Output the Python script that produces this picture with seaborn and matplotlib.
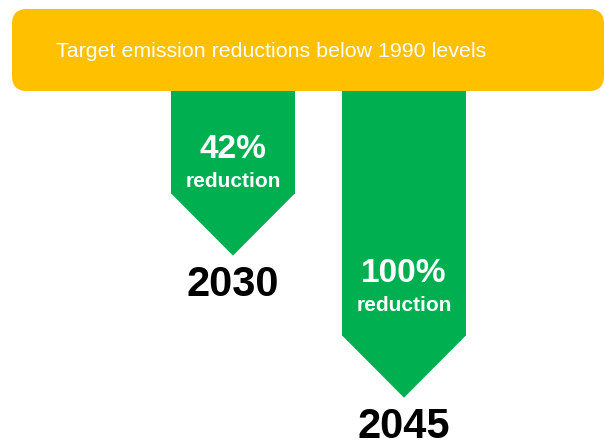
import matplotlib
matplotlib.use("Agg")
import matplotlib.pyplot as plt
import seaborn as sns
from matplotlib.patches import FancyBboxPatch, Polygon

# data
years = ["2030", "2045"]
reductions = [42, 100]
title = "Target emission reductions below 1990 levels"
unit_label = "reduction"

# colours / layout
green = "#00B050"
yellow = "#FFC000"
bar_width = 0.72
head_len = 25          # arrow head length in data units
label_lift = [0, 18]   # extra pixel lift of the labels inside each arrow

sns.set_theme(style="white")
plt.rcParams["font.family"] = ["Liberation Sans", "DejaVu Sans"]

fig = plt.figure(figsize=(6.05, 4.41), dpi=100)
ax = fig.add_axes([0, 0, 1, 1])

# arrow shafts
sns.barplot(x=years, y=reductions, color=green, saturation=1, width=bar_width,
            linewidth=0, ax=ax, zorder=2)

# arrow heads + labels
for i, (yr, v) in enumerate(zip(years, reductions)):
    head = Polygon([(i - bar_width / 2, v - 0.3), (i + bar_width / 2, v - 0.3),
                    (i, v + head_len)], closed=True, facecolor=green,
                   edgecolor=green, linewidth=0.5, zorder=2)
    ax.add_patch(head)
    ax.annotate(f"{v}%", (i, v), xytext=(0, 36 + label_lift[i]),
                textcoords="offset pixels", ha="center", va="baseline",
                color="white", fontsize=24, fontweight="bold", zorder=3)
    ax.annotate(unit_label, (i, v), xytext=(0, 7 + label_lift[i]),
                textcoords="offset pixels", ha="center", va="baseline",
                color="white", fontsize=15, fontweight="bold", zorder=3)
    ax.annotate(yr, (i, v + head_len), xytext=(0, -41),
                textcoords="offset pixels", ha="center", va="baseline",
                color="black", fontsize=30, fontweight="bold", zorder=3)

ax.set_xlim(-233 / 171, (605 - 233) / 171)
ax.set_ylim(350 / 2.45, -91 / 2.45)
ax.axis("off")

# banner
banner = FancyBboxPatch((0.12 + 0.15, 3.50 + 0.15), 5.92 - 0.30, 0.82 - 0.30,
                        boxstyle="round,pad=0.15", facecolor=yellow,
                        edgecolor="none", transform=fig.dpi_scale_trans,
                        clip_on=False, zorder=5)
ax.add_patch(banner)
fig.text(271.5 / 605, 1 - 57 / 441, title, ha="center", va="baseline",
         color="white", fontsize=15.4, zorder=6)

fig.savefig("out.png", dpi=100)
